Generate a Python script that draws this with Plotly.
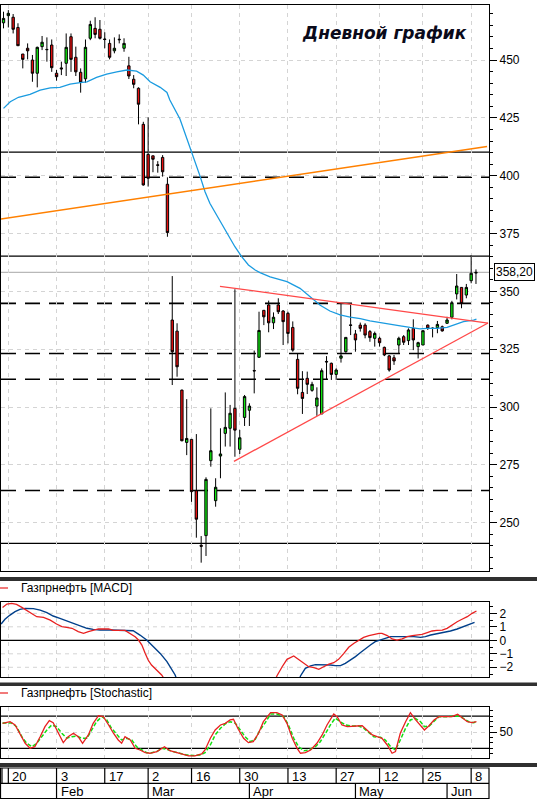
import plotly.graph_objects as go

W, H = 537, 799

# trading day index, 0 = 20 Jan
day = list(range(-1, 98))

open_ = [466.1, 469.2, 468.5, 464.1, 452.6, 455.1, 450.0, 444.3, 455.8, 454.6,
         456.5, 444.3, 446.6, 448.6, 460.1, 451.2, 444.7, 441.9, 459.4, 463.7,
         463.3, 459.1, 457.2, 454.0, 459.0, 455.1, 447.5, 441.7, 437.8, 422.2,
         409.2, 408.6, 404.7, 407.9, 396.3, 337.6, 332.8, 307.3, 284.7, 286.0,
         263.8, 240.2, 244.4, 276.8, 259.5, 278.8, 288.6, 290.8, 299.4, 281.7,
         295.5, 298.6, 315.8, 321.5, 341.8, 344.1, 336.4, 344.1, 341.5, 340.5,
         334.4, 320.6, 306.3, 312.4, 307.2, 300.4, 297.0, 319.7, 318.9, 314.1,
         321.1, 323.9, 335.5, 331.6, 335.4, 335.4, 332.6, 329.7, 329.7, 325.8,
         322.1, 321.3, 326.8, 330.4, 328.7, 334.0, 326.1, 326.8, 335.4, 334.1,
         334.3, 334.7, 336.2, 338.8, 348.9, 351.7, 348.4, 354.6, 357.9]
high = [470.9, 471.6, 469.9, 465.9, 452.6, 457.2, 452.2, 455.8, 460.4, 459.8,
        458.9, 445.7, 449.3, 461.5, 461.5, 455.8, 446.4, 458.9, 467.0, 468.5,
        467.3, 462.0, 458.9, 459.8, 461.1, 459.4, 451.4, 443.5, 438.2, 423.3,
        425.2, 408.6, 406.3, 408.9, 399.3, 356.6, 336.2, 307.5, 303.4, 286.0,
        288.3, 244.2, 269.6, 299.4, 269.2, 290.8, 306.3, 300.9, 350.9, 290.1,
        305.2, 301.6, 324.4, 341.2, 341.8, 346.0, 340.9, 347.0, 341.9, 341.2,
        337.0, 323.2, 315.5, 315.3, 310.9, 308.5, 316.7, 322.0, 319.2, 316.7,
        344.8, 330.1, 344.1, 333.3, 336.5, 336.2, 333.3, 332.6, 330.4, 326.1,
        322.5, 322.5, 330.4, 331.1, 334.0, 337.9, 328.2, 333.0, 335.7, 334.4,
        337.2, 335.2, 339.0, 345.9, 357.5, 351.7, 353.2, 365.7, 359.5]
low = [463.7, 464.1, 461.5, 456.2, 446.4, 450.3, 440.6, 438.2, 454.3, 449.3,
       444.9, 441.1, 443.5, 443.1, 444.9, 443.1, 435.9, 440.2, 458.6, 459.4,
       458.9, 455.1, 450.3, 452.9, 457.2, 453.6, 441.8, 437.8, 422.2, 395.7,
       395.3, 401.5, 401.3, 399.6, 373.6, 309.5, 313.1, 285.2, 279.2, 259.0,
       243.5, 232.7, 235.6, 274.2, 256.9, 269.2, 282.9, 282.9, 278.5, 279.7,
       291.8, 291.8, 305.9, 321.2, 335.4, 332.3, 333.7, 340.2, 326.8, 327.5,
       323.9, 305.5, 297.0, 305.6, 306.6, 296.2, 297.0, 311.7, 311.7, 311.7,
       319.2, 323.5, 331.1, 323.9, 332.6, 329.7, 328.2, 326.1, 326.1, 322.0,
       315.3, 318.2, 322.9, 326.8, 326.8, 324.6, 321.0, 326.8, 333.3, 330.1,
       331.9, 332.6, 335.9, 337.9, 346.5, 342.7, 347.0, 353.5, 353.2]
close = [468.0, 470.2, 463.3, 456.2, 450.3, 454.0, 444.3, 455.5, 457.7, 454.5,
         446.7, 442.8, 446.2, 455.5, 450.3, 444.9, 440.4, 455.5, 465.4, 461.1,
         459.4, 458.9, 451.2, 455.1, 458.8, 457.2, 443.1, 439.5, 430.9, 396.0,
         398.9, 407.1, 404.5, 401.7, 375.4, 323.9, 317.4, 285.4, 286.4, 263.4,
         251.5, 239.8, 268.7, 281.1, 265.3, 279.7, 291.2, 297.3, 290.0, 286.7,
         304.5, 300.4, 315.6, 333.1, 339.0, 336.4, 338.8, 341.2, 336.9, 331.8,
         324.6, 308.1, 303.7, 309.8, 309.8, 303.9, 315.7, 319.5, 314.1, 316.0,
         322.1, 330.1, 335.3, 329.0, 334.0, 331.1, 330.0, 331.8, 327.8, 322.5,
         316.0, 319.9, 329.7, 328.0, 333.3, 329.0, 327.8, 333.0, 334.0, 334.0,
         335.7, 332.9, 337.6, 345.1, 352.3, 344.8, 351.7, 357.8, 358.2]

# moving average (blue)
ma_x = [-1.0, 0.4, 2.1, 4.5, 6.6, 8.7, 10.7, 12.8, 14.9, 16.3, 18.3, 20.4, 22.5,
        24.6, 26.6, 28.0, 29.4, 31.5, 32.9, 33.5, 35.6, 37.3, 38.7, 39.8, 40.8,
        41.8, 43.2, 44.6, 46.0, 47.0, 48.4, 49.8, 51.2, 52.2, 54.3, 57.8, 60.5,
        62.6, 64.7, 66.7, 68.8, 70.9, 73.0, 75.0, 77.1, 79.2, 81.3, 83.3, 85.4,
        86.8, 88.9, 91.0, 92.3, 94.4, 96.5, 97.1]
ma_y = [429.1, 432.0, 433.9, 435.2, 437.0, 438.0, 438.2, 439.6, 440.2, 440.6,
        442.5, 443.9, 444.9, 445.7, 445.2, 443.5, 440.6, 438.2, 436.0, 432.7,
        424.5, 414.7, 406.8, 399.6, 393.1, 388.1, 383.0, 377.9, 372.9, 369.3,
        365.0, 361.4, 359.2, 358.1, 356.3, 354.2, 351.3, 347.7, 344.0, 341.5,
        339.8, 338.9, 338.2, 337.2, 336.6, 335.9, 335.1, 334.4, 333.8, 334.0,
        334.0, 334.4, 335.4, 336.9, 337.6, 338.0]

# levels and trend lines
solid_levels = [410.2, 365.2, 241.0]
dashed_levels = [399.3, 344.8, 323.1, 312.0, 263.9]
last_price = 358.2
orange_x = [-1.7, 99.3]
orange_y = [381.2, 412.6]
tri_upper_x = [43.9, 99.5]
tri_upper_y = [352.2, 336.3]
tri_lower_x = [46.8, 99.5]
tri_lower_y = [276.5, 336.3]

# MACD
macd_grid = [-2, -1, 1, 2]
macd_x = [-1.2, -0.3, 0.7, 1.7, 2.8, 3.8, 4.9, 5.9, 7.3, 8.7, 10.0, 11.1, 12.1,
          13.2, 14.5, 15.6, 16.6, 17.6, 18.7, 20.8, 21.8, 24.2, 25.3, 26.3, 27.0,
          27.7, 28.4, 29.0, 29.7, 30.8, 31.8, 32.6, None,
          55.3, 55.7, 56.8, 57.8, 59.2, 60.2, 61.3, 62.3, 63.4, 64.4, 65.4, 66.5,
          67.5, 68.5, 69.6, 70.6, 71.7, 72.7, 73.7, 74.8, 75.8, 76.9, 77.5, 78.6,
          79.6, 80.6, 81.7, 82.7, 83.8, 84.8, 85.8, 86.9, 87.9, 88.9, 90.0, 91.0,
          92.0, 93.1, 94.1, 95.2, 96.2, 97.1]
macd_y = [2.44, 2.69, 2.74, 2.66, 2.44, 2.20, 2.00, 1.75, 1.70, 1.50, 1.21, 1.01,
          0.96, 0.89, 0.64, 0.52, 0.64, 0.76, 0.84, 0.84, 0.74, 0.74, 0.52, 0.27,
          0.02, -0.35, -0.97, -1.46, -1.83, -2.25, -2.57, -3.0, None,
          -3.0, -2.64, -1.96, -1.41, -1.16, -1.41, -1.71, -1.96, -2.03, -2.15,
          -1.96, -1.76, -1.66, -1.41, -0.97, -0.52, -0.22, 0.02, 0.22, 0.35, 0.44,
          0.52, 0.52, 0.35, 0.10, 0.02, 0.10, 0.27, 0.35, 0.39, 0.44, 0.57, 0.69,
          0.74, 0.76, 0.89, 1.14, 1.38, 1.56, 1.75, 2.00, 2.17]
signal_x = [-1.5, -0.7, 0.35, 1.4, 2.4, 3.5, 5.2, 6.6, 8.0, 9.3, 10.7, 12.1, 13.5,
            14.9, 16.3, 17.6, 19.0, 21.1, 23.2, 25.9, 27.3, 28.7, 30.1, 31.5, 32.9,
            33.9, 34.6, 35.0, None,
            60.3, 60.6, 61.6, 62.7, 63.7, 64.7, 65.8, 66.8, 67.8, 68.9, 69.9, 71.0,
            72.0, 73.0, 74.1, 75.1, 76.1, 77.2, 78.2, 79.3, 80.3, 81.3, 82.7, 84.1,
            85.5, 86.5, 87.6, 88.9, 90.3, 91.7, 93.1, 94.4, 95.8, 96.7]
signal_y = [1.21, 1.56, 1.87, 2.12, 2.29, 2.37, 2.35, 2.24, 2.05, 1.80, 1.63, 1.46,
            1.26, 1.06, 0.89, 0.81, 0.76, 0.76, 0.76, 0.71, 0.39, 0.02, -0.47, -0.97,
            -1.58, -2.15, -2.57, -3.0, None,
            -3.0, -2.64, -2.08, -1.90, -1.80, -1.80, -1.83, -1.83, -1.88, -1.88,
            -1.71, -1.46, -1.21, -0.92, -0.60, -0.35, -0.10, 0.02, 0.15, 0.27, 0.27,
            0.27, 0.32, 0.27, 0.22, 0.27, 0.39, 0.47, 0.57, 0.69, 0.84, 1.01, 1.21,
            1.33]

# Stochastic
stoch_levels = [20, 80]
stk_x = [-1.2, 0.35, 1.4, 2.4, 3.5, 4.5, 5.5, 6.6, 7.6, 8.5, 9.3, 10.4, 11.4, 12.4,
         13.5, 14.5, 15.4, 16.6, 17.6, 18.7, 19.7, 20.8, 21.8, 22.8, 23.5, 24.2,
         25.3, 26.3, 27.3, 28.4, 29.4, 30.8, 32.4, 33.5, 34.9, 36.3, 37.4, 38.7,
         40.1, 40.8, 41.9, 42.9, 44.0, 45.0, 46.0, 46.7, 47.7, 48.8, 49.8, 50.8,
         51.9, 52.9, 53.7, 54.4, 55.7, 56.8, 57.8, 58.9, 59.9, 60.6, 61.6, 62.7,
         64.0, 65.1, 66.1, 67.2, 67.5, 68.2, 69.2, 70.3, 71.3, 72.3, 73.4, 74.4,
         75.5, 76.5, 77.5, 78.6, 79.6, 80.3, 81.3, 82.4, 83.4, 84.4, 85.5, 86.3,
         87.2, 88.3, 89.3, 90.3, 92.0, 93.2, 94.1, 95.2, 96.2, 97.1]
stk_y = [66.5, 69.5, 63.4, 48.0, 29.4, 20.0, 23.0, 41.6, 60.2, 71.4, 67.7, 48.0,
         30.5, 41.6, 48.0, 41.6, 29.4, 44.8, 66.5, 80.7, 78.8, 63.4, 48.0, 35.5,
         29.4, 41.6, 35.5, 20.0, 16.9, 11.9, 10.8, 13.8, 23.0, 15.6, 11.9, 9.5, 5.8,
         5.8, 9.5, 16.9, 38.7, 54.1, 63.4, 66.5, 72.7, 73.9, 55.4, 38.7, 30.5, 32.3,
         48.0, 69.5, 78.8, 86.2, 86.2, 82.0, 66.5, 38.7, 20.0, 10.8, 11.9, 16.9,
         29.4, 44.8, 63.4, 78.8, 83.8, 78.8, 63.4, 60.2, 60.2, 61.5, 62.1, 54.1,
         44.8, 41.6, 38.7, 26.2, 10.8, 13.8, 48.0, 69.5, 86.2, 73.9, 63.4, 54.1,
         61.5, 72.7, 78.8, 78.8, 78.8, 83.3, 77.0, 69.5, 67.7, 69.5]
std_x = [-1.2, 0.7, 1.7, 2.8, 3.8, 4.9, 5.9, 6.9, 8.0, 9.0, 10.0, 11.1, 12.1, 13.2,
         14.2, 15.2, 16.3, 17.3, 18.3, 19.4, 20.4, 21.4, 22.5, 23.5, 24.5, 25.6,
         26.6, 27.7, 28.7, 29.7, 30.8, 31.8, 32.9, 34.2, 35.6, 37.0, 38.4, 39.8,
         40.8, 41.9, 42.9, 44.0, 45.0, 46.0, 47.1, 48.1, 49.1, 50.2, 51.2, 52.2,
         53.3, 54.4, 55.7, 57.1, 58.1, 59.2, 60.2, 61.3, 62.3, 63.7, 64.7, 65.8,
         66.8, 67.8, 68.9, 69.9, 71.3, 72.7, 73.7, 74.8, 75.8, 77.2, 78.2, 79.3,
         80.3, 81.3, 82.4, 83.4, 84.4, 85.5, 86.3, 87.3, 88.3, 89.3, 91.0, 92.4,
         93.4, 94.4, 95.5, 96.5, 97.1]
std_y = [67.0, 67.0, 60.2, 41.6, 29.4, 23.0, 29.4, 41.6, 54.1, 63.4, 60.2, 48.0,
         39.0, 41.6, 43.0, 38.7, 38.7, 54.1, 69.5, 78.8, 73.0, 57.3, 44.8, 35.5,
         38.7, 35.5, 23.0, 16.9, 11.9, 11.9, 13.8, 20.0, 18.0, 13.8, 10.8, 7.7, 6.6,
         7.7, 11.9, 26.2, 44.8, 57.3, 65.4, 69.5, 66.5, 54.1, 41.6, 32.3, 36.5,
         54.1, 67.7, 83.8, 83.8, 78.8, 63.4, 38.7, 23.0, 15.6, 16.9, 23.0, 32.3,
         48.0, 63.4, 75.8, 69.5, 63.4, 61.5, 61.5, 57.3, 49.2, 41.6, 40.4, 35.5,
         23.0, 16.9, 35.5, 57.3, 72.7, 75.8, 69.5, 60.2, 61.5, 69.5, 78.8, 78.8,
         78.8, 80.0, 75.8, 69.5, 67.7, 69.5]

# date scale
date_ticks = [0, 10, 20, 29, 38, 48, 58, 68, 77, 86, 96]
date_labels = ["20", "3", "17", "2", "16", "30", "13", "27", "12", "25", "8"]
month_ticks = [10, 29, 50, 72, 91]
month_labels = ["Feb", "Mar", "Apr", "May", "Jun"]


def px(x):
    return x / W


def py(y):
    return 1 - y / H


FONT = "Liberation Sans, Arial, sans-serif"
XR = [-1.52, 99.7]
XDOM = [px(1), px(489)]
GRIDC = "#d4d4d4"

fig = go.Figure()

fig.add_trace(go.Candlestick(
    x=day, open=open_, high=high, low=low, close=close,
    increasing=dict(fillcolor="#10e810", line=dict(color="black", width=1)),
    decreasing=dict(fillcolor="#e81010", line=dict(color="black", width=1)),
    whiskerwidth=0, hoverinfo="skip", xaxis="x", yaxis="y"))

fig.add_trace(go.Scatter(x=ma_x, y=ma_y, mode="lines",
                         line=dict(color="#1a9be0", width=1.3), xaxis="x", yaxis="y"))
fig.add_trace(go.Scatter(x=orange_x, y=orange_y, mode="lines",
                         line=dict(color="#ff8000", width=1.5), xaxis="x", yaxis="y"))
fig.add_trace(go.Scatter(x=tri_upper_x, y=tri_upper_y, mode="lines",
                         line=dict(color="#ff4848", width=1.3), xaxis="x", yaxis="y"))
fig.add_trace(go.Scatter(x=tri_lower_x, y=tri_lower_y, mode="lines",
                         line=dict(color="#ff4848", width=1.3), xaxis="x", yaxis="y"))

fig.add_trace(go.Scatter(x=signal_x, y=signal_y, mode="lines", connectgaps=False,
                         line=dict(color="#003f8a", width=1.4), xaxis="x2", yaxis="y2"))
fig.add_trace(go.Scatter(x=macd_x, y=macd_y, mode="lines", connectgaps=False,
                         line=dict(color="#e82020", width=1.3), xaxis="x2", yaxis="y2"))

fig.add_trace(go.Scatter(x=std_x, y=std_y, mode="lines",
                         line=dict(color="#10e010", width=1.5, dash="4px,2px"),
                         xaxis="x3", yaxis="y3"))
fig.add_trace(go.Scatter(x=stk_x, y=stk_y, mode="lines",
                         line=dict(color="#e82020", width=1.3), xaxis="x3", yaxis="y3"))

shapes = []
for lv in solid_levels:
    shapes.append(dict(type="line", xref="x domain", yref="y", x0=0, x1=1, y0=lv, y1=lv,
                       line=dict(color="black", width=1.2), layer="below"))
for lv in dashed_levels:
    shapes.append(dict(type="line", xref="x domain", yref="y", x0=0, x1=1, y0=lv, y1=lv,
                       line=dict(color="black", width=1.6, dash="15px,9px"), layer="below"))
shapes.append(dict(type="line", xref="x domain", yref="y", x0=0, x1=1,
                   y0=last_price, y1=last_price,
                   line=dict(color="#b8b8b8", width=1.2), layer="below"))
for lv in macd_grid:
    shapes.append(dict(type="line", xref="x2 domain", yref="y2", x0=0, x1=1, y0=lv, y1=lv,
                       line=dict(color=GRIDC, width=1, dash="4px,4px"), layer="below"))
shapes.append(dict(type="line", xref="x2 domain", yref="y2", x0=0, x1=1, y0=0, y1=0,
                   line=dict(color="black", width=1.2), layer="below"))
for lv in stoch_levels:
    shapes.append(dict(type="line", xref="x3 domain", yref="y3", x0=0, x1=1, y0=lv, y1=lv,
                       line=dict(color="black", width=1.2), layer="below"))

# separators
for y0, y1 in [(577, 581), (682.5, 686), (763, 767)]:
    shapes.append(dict(type="rect", xref="paper", yref="paper", x0=0, x1=1,
                       y0=py(y1), y1=py(y0), fillcolor="#303030", line=dict(width=0)))

# date panel
shapes.append(dict(type="rect", xref="paper", yref="paper", x0=px(0.5), x1=px(489),
                   y0=py(798.5), y1=py(768), line=dict(color="black", width=1.2)))
shapes.append(dict(type="line", xref="paper", yref="paper", x0=px(0.5), x1=px(489),
                   y0=py(783.3), y1=py(783.3), line=dict(color="black", width=1.2)))
shapes.append(dict(type="line", xref="paper", yref="paper", x0=px(2), x1=px(2),
                   y0=py(783.3), y1=py(768), line=dict(color="black", width=1.2)))
for t in date_ticks:
    shapes.append(dict(type="line", xref="x", yref="paper", x0=t, x1=t,
                       y0=py(783.3), y1=py(768), line=dict(color="black", width=1.2)))
for t in month_ticks:
    shapes.append(dict(type="line", xref="x", yref="paper", x0=t, x1=t,
                       y0=py(798.5), y1=py(783.3), line=dict(color="black", width=1.2)))

annotations = []
for t, lab in zip(date_ticks, date_labels):
    annotations.append(dict(x=t, y=py(776), xref="x", yref="paper", text=lab,
                            showarrow=False, xanchor="left", yanchor="middle", xshift=2,
                            font=dict(family=FONT, size=13, color="black")))
for t, lab in zip(month_ticks, month_labels):
    annotations.append(dict(x=t, y=py(791), xref="x", yref="paper", text=lab,
                            showarrow=False, xanchor="left", yanchor="middle", xshift=2,
                            font=dict(family=FONT, size=13, color="black")))

for yy, lab in [(588, "Газпрнефть [MACD]"), (693, "Газпрнефть [Stochastic]")]:
    shapes.append(dict(type="line", xref="paper", yref="paper", x0=0, x1=px(8),
                       y0=py(yy), y1=py(yy), line=dict(color="#e82020", width=1.2)))
    annotations.append(dict(x=px(19), y=py(yy), xref="paper", yref="paper", text=lab,
                            showarrow=False, xanchor="left", yanchor="middle",
                            font=dict(family=FONT, size=12, color="black")))

annotations.append(dict(x=px(384), y=py(33), xref="paper", yref="paper",
                        text="<b><i>Дневной график</i></b>", showarrow=False,
                        xanchor="center", yanchor="middle",
                        font=dict(family="DejaVu Sans", size=17, color="#0a0a1a")))
annotations.append(dict(x=px(514), y=last_price, xref="paper", yref="y",
                        text="358,20", showarrow=False, xanchor="center", yanchor="middle",
                        bordercolor="black", borderwidth=1, borderpad=1, bgcolor="white",
                        font=dict(family=FONT, size=12, color="black")))

grid = dict(showgrid=True, gridcolor=GRIDC, griddash="4px,4px", gridwidth=1)
box = dict(showline=True, mirror=True, linecolor="black", linewidth=1.2, zeroline=False)

xcommon = dict(range=XR, domain=XDOM, tickvals=date_ticks, showticklabels=False,
               ticks="", **grid, **box)

fig.update_layout(
    width=W, height=H,
    margin=dict(l=0, r=0, t=0, b=0),
    paper_bgcolor="white", plot_bgcolor="white",
    showlegend=False,
    xaxis=dict(anchor="y", rangeslider=dict(visible=False), **xcommon),
    xaxis2=dict(anchor="y2", **xcommon),
    xaxis3=dict(anchor="y3", **xcommon),
    yaxis=dict(domain=[py(571), py(5)], range=[229.1, 473.8], side="right",
               anchor="x", tickvals=[250, 275, 300, 325, 350, 375, 400, 425, 450],
               ticks="outside", ticklen=7, tickcolor="black",
               minor=dict(dtick=5, tick0=0, ticks="outside", ticklen=3, tickcolor="black",
                          showgrid=False),
               tickfont=dict(family=FONT, size=12, color="black"), **grid, **box),
    yaxis2=dict(domain=[py(677), py(602)], range=[-2.72, 2.84], side="right",
                anchor="x2", tickvals=[-2, -1, 0, 1, 2], showgrid=False,
                ticks="outside", ticklen=7, tickcolor="black",
                minor=dict(dtick=0.5, tick0=0, ticks="outside", ticklen=3,
                           tickcolor="black", showgrid=False),
                tickfont=dict(family=FONT, size=12, color="black"), **box),
    yaxis3=dict(domain=[py(758), py(707)], range=[2.0, 96.8], side="right",
                anchor="x3", tickvals=[50],
                ticks="outside", ticklen=7, tickcolor="black",
                minor=dict(dtick=10, tick0=0, ticks="outside", ticklen=3,
                           tickcolor="black", showgrid=False),
                tickfont=dict(family=FONT, size=12, color="black"), **grid, **box),
    shapes=shapes,
    annotations=annotations,
)

# the page's default body margin would shift the fixed-size figure
fig.write_html("out.html", config={"displayModeBar": False},
               post_script="document.body.style.margin='0px';")
